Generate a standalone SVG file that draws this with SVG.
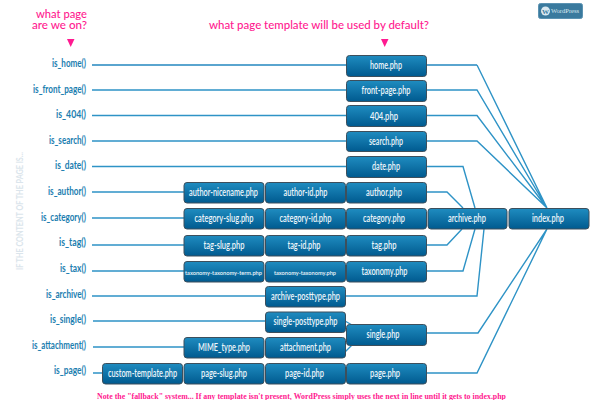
<svg xmlns="http://www.w3.org/2000/svg" width="600" height="400" viewBox="0 0 600 400">
<style>
text{font-family:Lato,"Noto Sans","Liberation Sans",sans-serif}
.n rect{fill:url(#g);stroke:#3d4f5c;stroke-width:1}
.n text{fill:#eef6fb;font-size:10.5px;font-weight:600;text-anchor:middle}
.l{fill:#1b7eb0;font-size:10.5px;font-weight:700;text-anchor:end}
.c{fill:none;stroke:#2e93c6;stroke-width:1.4}
.p{fill:#ff1a90;font-size:10.5px;font-weight:500}
</style>
<defs>
<linearGradient id="g" x1="0" y1="0" x2="0" y2="1"><stop offset="0" stop-color="#1f8cc0"/><stop offset="1" stop-color="#005a8f"/></linearGradient>
</defs>
<rect width="600" height="400" fill="#fff"/>
<text class="p" x="87" y="18" text-anchor="end" textLength="51" lengthAdjust="spacingAndGlyphs">what page</text>
<text class="p" x="87" y="29" text-anchor="end" textLength="55" lengthAdjust="spacingAndGlyphs">are we on?</text>
<polygon fill="#ff1a90" points="67,39 74.500,39 70.700,47"/>
<text class="p" x="209" y="29" textLength="220" lengthAdjust="spacingAndGlyphs" style="font-size:11.5px">what page template will be used by default?</text>
<polygon fill="#ff1a90" points="381,39 388.500,39 384.700,47"/>
<text x="97" y="399" textLength="409" lengthAdjust="spacingAndGlyphs" style="font-family:'Liberation Serif',serif;font-size:8px;font-weight:700;fill:#ff1a90">Note the "fallback" system... If any template isn't present, WordPress simply uses the next in line until it gets to index.php</text>
<text transform="translate(22.500,270) rotate(-90)" textLength="118" lengthAdjust="spacingAndGlyphs" style="font-size:8.500px;font-weight:700;fill:#dbe5ec">IF THE CONTENT OF THE PAGE IS...</text>
<g id="badge">
<rect x="538.500" y="3.500" width="44" height="15" rx="2" fill="#3a7a9e" stroke="#5c93b2"/>
<circle cx="545.500" cy="11" r="4.500" fill="#d9e8f0"/>
<text x="545.500" y="13.500" text-anchor="middle" style="font-family:'Liberation Serif',serif;font-size:7px;font-weight:700;fill:#3a7a9e">W</text>
<text x="551" y="13" textLength="28" lengthAdjust="spacingAndGlyphs" style="font-family:'Liberation Serif',serif;font-size:6px;fill:#d9e8f0">WordPress</text>
</g>
<g id="labels">
<text class="l" x="86" y="67" textLength="34" lengthAdjust="spacingAndGlyphs">is_home()</text>
<text class="l" x="86" y="92.500" textLength="53" lengthAdjust="spacingAndGlyphs">is_front_page()</text>
<text class="l" x="86" y="118" textLength="30" lengthAdjust="spacingAndGlyphs">is_404()</text>
<text class="l" x="86" y="144" textLength="37" lengthAdjust="spacingAndGlyphs">is_search()</text>
<text class="l" x="86" y="169" textLength="31" lengthAdjust="spacingAndGlyphs">is_date()</text>
<text class="l" x="86" y="195" textLength="38" lengthAdjust="spacingAndGlyphs">is_author()</text>
<text class="l" x="86" y="221" textLength="45" lengthAdjust="spacingAndGlyphs">is_category()</text>
<text class="l" x="86" y="246" textLength="27" lengthAdjust="spacingAndGlyphs">is_tag()</text>
<text class="l" x="86" y="272" textLength="26" lengthAdjust="spacingAndGlyphs">is_tax()</text>
<text class="l" x="86" y="298" textLength="40" lengthAdjust="spacingAndGlyphs">is_archive()</text>
<text class="l" x="86" y="323" textLength="36" lengthAdjust="spacingAndGlyphs">is_single()</text>
<text class="l" x="86" y="349" textLength="54" lengthAdjust="spacingAndGlyphs">is_attachment()</text>
<text class="l" x="86" y="374" textLength="32" lengthAdjust="spacingAndGlyphs">is_page()</text>
</g>
<g id="connectors">
<path class="c" style="stroke-width:2;stroke:#5aa5cf" d="M92,65H346"/>
<path class="c" d="M92,90H346M92,115.500H346M92,141H346M92,166.500H346M92,192H184M92,218H184M92,245H184M92,271H184M92,296H265M93,321H265M93,347H184M93,373H102"/>
<path class="c" style="stroke-width:2;stroke:#5aa5cf" d="M427,65H477"/>
<path class="c" d="M477,65L547,208M427,90H477L547,208M427,115.500H477L547,208M427,141H477L547,208"/>
<path class="c" d="M427,166.500H463L475,208M427,192H447L463,208M427,245H447L462,229M427,271H463L475,229"/>
<path class="c" d="M345,296H477L484,229M427,333H478L547,229M427,373H477L547,229"/>
<path class="c" d="M345,321L352,325M345,352L352,345"/>
</g>
<g id="home" class="n"><rect x="346.500" y="55.500" width="80" height="21" rx="3"/><text x="386" y="69" textLength="32" lengthAdjust="spacingAndGlyphs">home.php</text></g>
<g id="front-page" class="n"><rect x="346.500" y="80.500" width="80" height="21" rx="3"/><text x="386" y="94" textLength="49" lengthAdjust="spacingAndGlyphs">front-page.php</text></g>
<g id="p404" class="n"><rect x="346.500" y="105.500" width="80" height="21" rx="3"/><text x="384" y="119.500" textLength="28" lengthAdjust="spacingAndGlyphs">404.php</text></g>
<g id="search" class="n"><rect x="346.500" y="131.500" width="80" height="20" rx="3"/><text x="386" y="145" textLength="34" lengthAdjust="spacingAndGlyphs">search.php</text></g>
<g id="date" class="n"><rect x="346.500" y="156.500" width="80" height="21" rx="3"/><text x="386" y="170" textLength="28" lengthAdjust="spacingAndGlyphs">date.php</text></g>
<g id="author-nicename" class="n"><rect x="184" y="182.500" width="80" height="20.500" rx="3"/><text x="223.500" y="196" textLength="69" lengthAdjust="spacingAndGlyphs">author-nicename.php</text></g>
<g id="author-id" class="n"><rect x="265.500" y="182.500" width="80" height="20.500" rx="3"/><text x="305.500" y="196" textLength="44" lengthAdjust="spacingAndGlyphs">author-id.php</text></g>
<g id="author" class="n"><rect x="346.500" y="182.500" width="80" height="20.500" rx="3"/><text x="384" y="196" textLength="36" lengthAdjust="spacingAndGlyphs">author.php</text></g>
<g id="category-slug" class="n"><rect x="184" y="208.500" width="80" height="20.500" rx="3"/><text x="224" y="222" textLength="59" lengthAdjust="spacingAndGlyphs">category-slug.php</text></g>
<g id="category-id" class="n"><rect x="265.500" y="208.500" width="80" height="20.500" rx="3"/><text x="305.500" y="222" textLength="52" lengthAdjust="spacingAndGlyphs">category-id.php</text></g>
<g id="category" class="n"><rect x="346.500" y="208.500" width="80" height="20.500" rx="3"/><text x="384" y="222" textLength="42" lengthAdjust="spacingAndGlyphs">category.php</text></g>
<g id="archive" class="n"><rect x="428" y="208.500" width="79" height="20.500" rx="3"/><text x="467" y="222" textLength="38" lengthAdjust="spacingAndGlyphs">archive.php</text></g>
<g id="index" class="n"><rect x="509" y="208.500" width="80" height="20.500" rx="3"/><text x="548" y="222" textLength="32" lengthAdjust="spacingAndGlyphs">index.php</text></g>
<g id="tag-slug" class="n"><rect x="184" y="235.500" width="80" height="20.500" rx="3"/><text x="224" y="249" textLength="41" lengthAdjust="spacingAndGlyphs">tag-slug.php</text></g>
<g id="tag-id" class="n"><rect x="265.500" y="235.500" width="80" height="20.500" rx="3"/><text x="304" y="249" textLength="33" lengthAdjust="spacingAndGlyphs">tag-id.php</text></g>
<g id="tag" class="n"><rect x="346.500" y="235.500" width="80" height="20.500" rx="3"/><text x="384" y="249" textLength="25" lengthAdjust="spacingAndGlyphs">tag.php</text></g>
<g id="taxonomy-term" class="n"><rect x="184" y="261.500" width="80" height="20.500" rx="3"/><text x="223.500" y="274.500" textLength="77" lengthAdjust="spacingAndGlyphs" style="font-size:6.500px">taxonomy-taxonomy-term.php</text></g>
<g id="taxonomy-taxonomy" class="n"><rect x="265.500" y="261.500" width="80" height="20.500" rx="3"/><text x="305" y="274.500" textLength="62" lengthAdjust="spacingAndGlyphs" style="font-size:6.500px">taxonomy-taxonomy.php</text></g>
<g id="taxonomy" class="n"><rect x="346.500" y="261.500" width="80" height="20.500" rx="3"/><text x="384.500" y="275" textLength="46" lengthAdjust="spacingAndGlyphs">taxonomy.php</text></g>
<g id="archive-posttype" class="n"><rect x="265.500" y="286.500" width="80" height="20.500" rx="3"/><text x="305.500" y="300" textLength="69" lengthAdjust="spacingAndGlyphs">archive-posttype.php</text></g>
<g id="single-posttype" class="n"><rect x="265.500" y="312" width="80" height="20.500" rx="3"/><text x="305.500" y="325" textLength="64" lengthAdjust="spacingAndGlyphs">single-posttype.php</text></g>
<g id="single" class="n"><rect x="346.500" y="324.500" width="80" height="21" rx="3"/><text x="383" y="338" textLength="33" lengthAdjust="spacingAndGlyphs">single.php</text></g>
<g id="mime-type" class="n"><rect x="184" y="337.500" width="80" height="20.500" rx="3"/><text x="224" y="351" textLength="52" lengthAdjust="spacingAndGlyphs">MIME_type.php</text></g>
<g id="attachment" class="n"><rect x="265.500" y="337.500" width="80" height="20.500" rx="3"/><text x="305.500" y="351" textLength="51" lengthAdjust="spacingAndGlyphs">attachment.php</text></g>
<g id="custom-template" class="n"><rect x="102.500" y="363.500" width="80" height="20.500" rx="3"/><text x="142.500" y="376.500" textLength="69" lengthAdjust="spacingAndGlyphs">custom-template.php</text></g>
<g id="page-slug" class="n"><rect x="184" y="363.500" width="80" height="20.500" rx="3"/><text x="224" y="376.500" textLength="46" lengthAdjust="spacingAndGlyphs">page-slug.php</text></g>
<g id="page-id" class="n"><rect x="265.500" y="363.500" width="80" height="20.500" rx="3"/><text x="304.500" y="376.500" textLength="39" lengthAdjust="spacingAndGlyphs">page-id.php</text></g>
<g id="page" class="n"><rect x="346.500" y="363.500" width="80" height="20.500" rx="3"/><text x="385" y="376.500" textLength="30" lengthAdjust="spacingAndGlyphs">page.php</text></g>
</svg>
